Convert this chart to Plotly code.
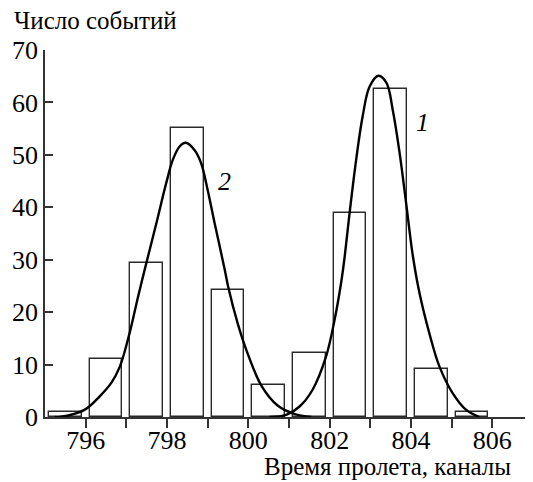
import plotly.graph_objects as go

# Histogram data (channel centres and counts)
bin_centers = [795.5, 796.5, 797.5, 798.5, 799.5, 800.5, 801.5, 802.5, 803.5, 804.5, 805.5]
counts = [1.0, 11.0, 29.3, 55.2, 24.3, 6.1, 12.3, 39.0, 62.5, 9.1, 0.9]

# Fitted curve 2
curve2_x = [795.24, 795.36, 795.98, 796.34, 796.63, 796.84, 797.08, 797.29, 797.49, 797.74,
            797.98, 798.14, 798.31, 798.46, 798.68, 798.84, 799.0, 799.17, 799.42, 799.5,
            799.74, 799.95, 800.32, 800.72, 801.13, 801.55]
curve2_y = [0.0, 0.0, 1.4, 3.9, 6.5, 9.6, 16.0, 23.0, 29.3, 37.0,
            44.6, 49.0, 51.6, 52.3, 50.9, 48.4, 43.3, 37.0, 28.1, 25.0,
            17.8, 12.8, 6.0, 2.2, 0.6, 0.0]

# Fitted curve 1
curve1_x = [800.52, 800.93, 801.26, 801.58, 801.91, 802.12, 802.28, 802.36, 802.49, 802.65,
            802.81, 802.98, 803.2, 803.4, 803.55, 803.71, 803.88, 804.04, 804.21, 804.45,
            804.7, 805.02, 805.35, 805.68]
curve1_y = [0.0, 0.4, 2.0, 5.2, 11.5, 18.5, 25.5, 30.0, 38.9, 49.0,
            57.3, 63.0, 65.1, 63.7, 58.6, 50.9, 40.8, 31.0, 23.6, 16.0,
            9.6, 4.6, 1.4, 0.0]

x_tickvals = list(range(796, 807))
x_ticktext = [str(v) if v % 2 == 0 else "" for v in x_tickvals]
y_tickvals = [0, 10, 20, 30, 40, 50, 60, 70]

FONT = "Liberation Serif"

fig = go.Figure()
fig.add_trace(go.Bar(
    x=bin_centers, y=counts, width=0.8,
    marker=dict(color="white", line=dict(color="#2a2a2a", width=1.4)),
    hoverinfo="skip"
))
fig.add_trace(go.Scatter(
    x=curve2_x, y=curve2_y, mode="lines",
    line=dict(color="black", width=2.4, shape="spline", smoothing=1.0)
))
fig.add_trace(go.Scatter(
    x=curve1_x, y=curve1_y, mode="lines",
    line=dict(color="black", width=2.4, shape="spline", smoothing=1.0)
))

fig.update_layout(
    width=525, height=474,
    margin=dict(l=37, r=0, t=42, b=65),
    paper_bgcolor="white", plot_bgcolor="white",
    showlegend=False,
    bargap=0,
    xaxis=dict(
        range=[795, 807], tickvals=x_tickvals, ticktext=x_ticktext,
        ticks="outside", ticklen=9, tickwidth=1.5, tickcolor="#333",
        showline=True, linecolor="#333", linewidth=1.5,
        showgrid=False, zeroline=False, ticklabelstandoff=-10,
        tickfont=dict(family=FONT, size=26, color="black"),
    ),
    yaxis=dict(
        range=[0, 70], tickvals=y_tickvals,
        ticks="inside", ticklen=8, tickwidth=1.5, tickcolor="#333",
        showline=True, linecolor="#333", linewidth=1.5,
        showgrid=False, zeroline=False,
        tickfont=dict(family=FONT, size=26, color="black"),
    ),
    annotations=[
        dict(text="Число событий", xref="paper", yref="paper", x=-0.068, y=1,
             xanchor="left", yanchor="middle", yshift=30, showarrow=False,
             font=dict(family=FONT, size=25, color="black")),
        dict(text="Время пролета, каналы", xref="paper", yref="paper", x=0.959, y=0,
             xanchor="right", yanchor="middle", yshift=-49, showarrow=False,
             font=dict(family=FONT, size=25, color="black")),
        dict(text="<i>1</i>", xref="x", yref="y", x=804.28, y=56.1,
             showarrow=False, font=dict(family=FONT, size=26, color="black")),
        dict(text="<i>2</i>", xref="x", yref="y", x=799.42, y=44.9,
             showarrow=False, font=dict(family=FONT, size=26, color="black")),
    ],
)

fig.write_html("out.html")
